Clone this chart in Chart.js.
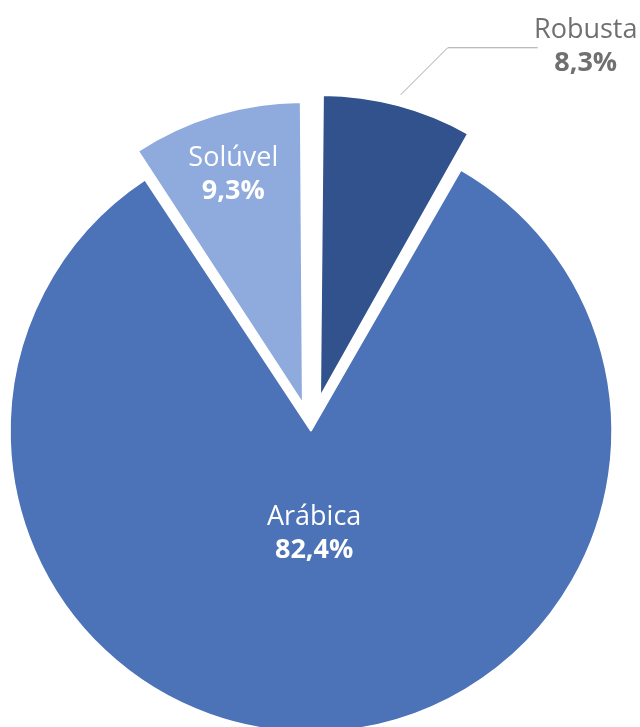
<!DOCTYPE html>
<html>
<head>
<meta charset="utf-8">
<script src="https://cdn.jsdelivr.net/npm/chart.js@4"></script>
<style>
  html, body { margin: 0; padding: 0; background: #fff; overflow: hidden; }
  #wrap { width: 640px; height: 727px; overflow: hidden; position: relative; }
  canvas { position: absolute; left: 0; top: 0; }
</style>
</head>
<body>
<div id="wrap"><canvas id="pieChart" width="640" height="862"></canvas></div>
<script>
// dados do gráfico
const labels = ["Robusta", "Arábica", "Solúvel"];
const values = [8.3, 82.4, 9.3];
const colors = ["#31528D", "#4C72B8", "#8FAADC"];
// deslocamento (explosão) de cada fatia, em px
const explode = [36, 0, 29];

function formatPct(v) {
  return v.toFixed(1).replace(".", ",") + "%";
}

// o Chart.js v4 desloca offset/4 e aumenta o raio; compensa o raio aqui
const radiusFix = {
  id: "radiusFix",
  beforeDatasetsDraw(chart) {
    const meta = chart.getDatasetMeta(0);
    const R = meta.controller.outerRadius;
    meta.data.forEach((arc) => {
      const t = (arc.options.offset || 0) / 4;
      const fix = 1 - Math.sin(Math.min(Math.PI, arc.circumference || 0));
      arc.outerRadius = R - t * fix;
    });
  }
};

// rótulos desenhados à mão (sem plugin datalabels)
const labelPlugin = {
  id: "pieLabels",
  afterDatasetsDraw(chart) {
    const ctx = chart.ctx;
    const meta = chart.getDatasetMeta(0);
    const R = meta.controller.outerRadius;
    meta.data.forEach((arc, i) => {
      const mid = (arc.startAngle + arc.endAngle) / 2;
      const off = (arc.options.offset || 0) / 4;
      const cx = arc.x + Math.cos(mid) * off;
      const cy = arc.y + Math.sin(mid) * off;
      let tx, ty, color;

      if (i === 0) {
        // rótulo externo com linha guia
        const sx = cx + Math.cos(mid) * (R + 11);
        const sy = cy + Math.sin(mid) * (R + 11);
        const ex = sx + 47, ey = sy - 47;
        ctx.save();
        ctx.strokeStyle = "#A6A6A6";
        ctx.lineWidth = 1;
        ctx.beginPath();
        ctx.moveTo(sx, sy);
        ctx.lineTo(ex, ey);
        ctx.lineTo(ex + 90, ey);
        ctx.stroke();
        ctx.restore();
        tx = ex + 90 + 48;
        ty = ey - 3.5;
        color = "#707070";
      } else {
        const k = i === 1 ? 0.334 : 0.8;
        tx = cx + Math.cos(mid) * R * k;
        ty = cy + Math.sin(mid) * R * k;
        color = "#FFFFFF";
      }

      ctx.save();
      ctx.fillStyle = color;
      ctx.textAlign = "center";
      ctx.textBaseline = "alphabetic";
      ctx.font = "27px 'Open Sans'";
      ctx.fillText(labels[i], tx, ty - 6.5);
      ctx.font = "bold 27px 'Open Sans'";
      ctx.fillText(formatPct(values[i]), tx, ty + 26.5);
      ctx.restore();
    });
  }
};

new Chart(document.getElementById("pieChart"), {
  type: "pie",
  data: {
    labels: labels,
    datasets: [
      {
        data: values,
        backgroundColor: colors,
        borderColor: "#FFFFFF",
        borderWidth: 1.5,
        offset: explode.map((e) => e * 4),
        hoverOffset: 0
      }
    ]
  },
  options: {
    responsive: false,
    animation: false,
    devicePixelRatio: 1,
    radius: 301,
    layout: { padding: { left: 0, right: 18, top: 0, bottom: 0 } },
    plugins: {
      legend: { display: false },
      tooltip: { enabled: false }
    }
  },
  plugins: [radiusFix, labelPlugin]
});
</script>
</body>
</html>
